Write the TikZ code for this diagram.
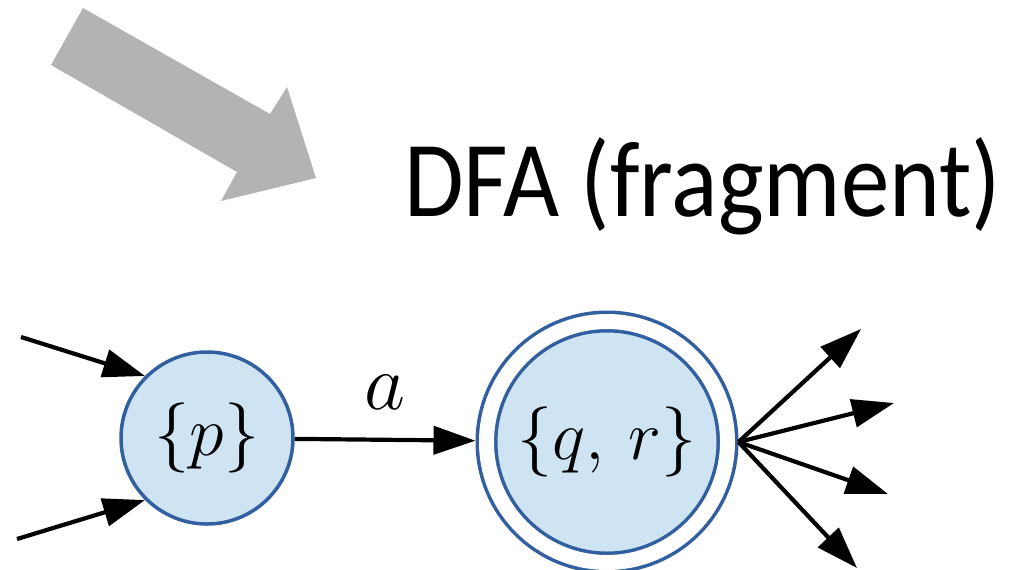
\documentclass[tikz,border=0pt]{standalone}
\usepackage{fontspec}
\newfontfamily\titlefont{Carlito}
\usetikzlibrary{arrows.meta}
\definecolor{stateblue}{RGB}{49,95,160}
\definecolor{statefill}{RGB}{207,228,243}
\definecolor{bigarrow}{RGB}{179,179,179}
\newcommand{\bigmath}[2]{\scalebox{#1}{$#2$}}
\begin{document}
\begin{tikzpicture}[x=0.5pt,y=-0.5pt,
  state/.style={circle, draw=stateblue, fill=statefill, line width=1.75pt, inner sep=0pt, font=\Huge},
  arr/.style={-{Triangle[length=21pt,width=14pt]}, line width=2.1pt, black},
  lbl/.style={inner sep=0pt, font=\Huge},
  titlestyle/.style={anchor=base west, inner sep=0pt, font=\titlefont\fontsize{54}{54}\selectfont}
]
\useasboundingbox (0,0) rectangle (1012,569);
\fill[bigarrow] (83,8) -- (270,114) -- (287,87) -- (316,178) -- (221,201) -- (237,172) -- (51,65) -- cycle;
\node[titlestyle] (ttl) at (404,216) {\scalebox{0.897}[1]{DFA (fragment)}};
\node[state, minimum size=86pt, outer sep=0.875pt] (p) at (207,438) {\bigmath{1.41}{\{p\}}};
\node[state, minimum size=120.5pt, double=white, double distance=7.5pt, outer sep=5.5pt] (qr) at (607,442) {\bigmath{1.41}{\{q,\,r\}}};
\coordinate (i1) at (21,337);
\coordinate (i2) at (17,539);
\coordinate (o1) at (861,329);
\coordinate (o2) at (894,403);
\coordinate (o3) at (888,494);
\coordinate (o4) at (857,568);
\draw[arr] (i1) -- (p.135);
\draw[arr] (i2) -- (p.225);
\draw[arr] (p) -- node[lbl, above=14pt] (alab) {\bigmath{1.6}{a}} (qr);
\draw[arr] (qr.east) -- (o1);
\draw[arr] (qr.east) -- (o2);
\draw[arr] (qr.east) -- (o3);
\draw[arr] (qr.east) -- (o4);
\end{tikzpicture}
\end{document}
